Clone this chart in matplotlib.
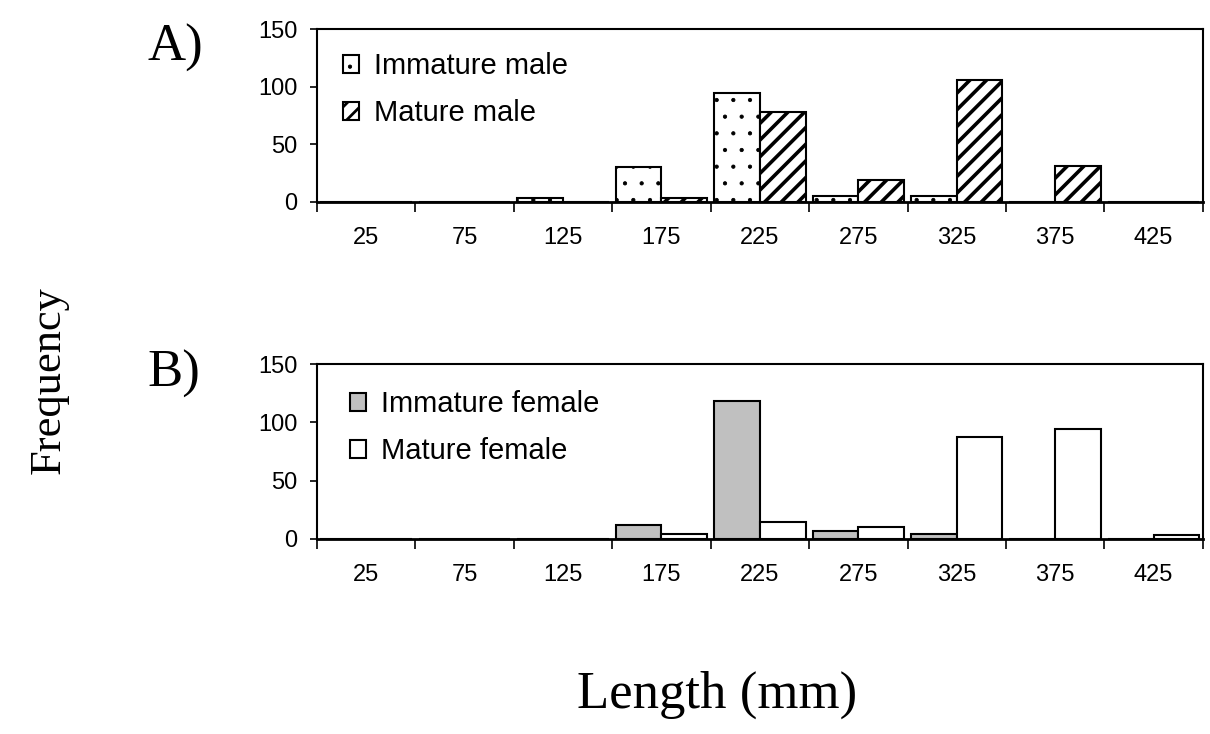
import numpy as np
import matplotlib.pyplot as plt

# Datos
categorias = ['25', '75', '125', '175', '225', '275', '325', '375', '425']
inmaduro_macho = [0, 0, 3, 30, 95, 5, 5, 0, 0]
maduro_macho = [0, 0, 0, 3, 78, 19, 106, 31, 0]
inmaduro_hembra = [0, 0, 0, 12, 118, 7, 4, 0, 0]
maduro_hembra = [0, 0, 0, 4, 14, 10, 87, 94, 3]

plt.rcParams['font.family'] = ['Liberation Sans', 'DejaVu Sans']

fig = plt.figure(figsize=(12.1, 7.34), dpi=100)
ax1 = fig.add_axes([0.262, 0.725, 0.732, 0.235])
ax2 = fig.add_axes([0.262, 0.266, 0.732, 0.238])

x = np.arange(len(categorias))
w = 0.465


def formato(ax):
    ax.set_xlim(-0.5, len(categorias) - 0.5)
    ax.set_ylim(0, 150)
    ax.set_yticks([0, 50, 100, 150])
    ax.set_xticks(np.arange(-0.5, len(categorias)), [''] * (len(categorias) + 1))
    ax.set_xticks(x, categorias, minor=True)
    ax.tick_params(axis='x', which='major', direction='out', length=7, width=1.2)
    ax.tick_params(axis='x', which='minor', length=0, pad=18, labelsize=17)
    ax.tick_params(axis='y', direction='out', length=5, width=1.2, pad=9, labelsize=17)
    for s in ax.spines.values():
        s.set_linewidth(1.5)
    ax.spines['bottom'].set_linewidth(2)


def grosor_trama(patches, lw):
    for p in patches:
        if hasattr(p, 'set_hatch_linewidth'):
            p.set_hatch_linewidth(lw)


# Panel A
with plt.rc_context({'hatch.linewidth': 0.6}):
    b1 = ax1.bar(x - w / 2, inmaduro_macho, w, color='white', edgecolor='black',
                 linewidth=1.5, hatch='.', label='Immature male')
with plt.rc_context({'hatch.linewidth': 2.6}):
    b2 = ax1.bar(x + w / 2, maduro_macho, w, color='white', edgecolor='black',
                 linewidth=1.5, hatch='//', label='Mature male')
grosor_trama(b1, 0.6)
grosor_trama(b2, 2.6)
formato(ax1)
leg1 = ax1.legend(loc='upper left', bbox_to_anchor=(0.0, 1.02), frameon=False,
                  fontsize=21, handlelength=0.55, handleheight=0.55,
                  handletextpad=0.5, labelspacing=0.65)
grosor_trama(leg1.legend_handles[:1], 0.6)
grosor_trama(leg1.legend_handles[1:], 2.0)

# Panel B
ax2.bar(x - w / 2, inmaduro_hembra, w, color='#C0C0C0', edgecolor='black',
        linewidth=1.5, label='Immature female')
ax2.bar(x + w / 2, maduro_hembra, w, color='white', edgecolor='black',
        linewidth=1.5, label='Mature female')
formato(ax2)
ax2.legend(loc='upper left', bbox_to_anchor=(0.008, 1.0), frameon=False,
           fontsize=21, handlelength=0.55, handleheight=0.55,
           handletextpad=0.5, labelspacing=0.65)

serif = ['Liberation Serif', 'DejaVu Serif']
fig.text(0.122, 0.935, 'A)', family=serif, fontsize=38, ha='left', va='center')
fig.text(0.122, 0.49, 'B)', family=serif, fontsize=38, ha='left', va='center')
fig.text(0.04, 0.482, 'Frequency', family=serif, fontsize=32, rotation=90,
         ha='center', va='center')
fig.text(0.593, 0.053, 'Length (mm)', family=serif, fontsize=38,
         ha='center', va='center')

fig.savefig('out.png', dpi=100)
